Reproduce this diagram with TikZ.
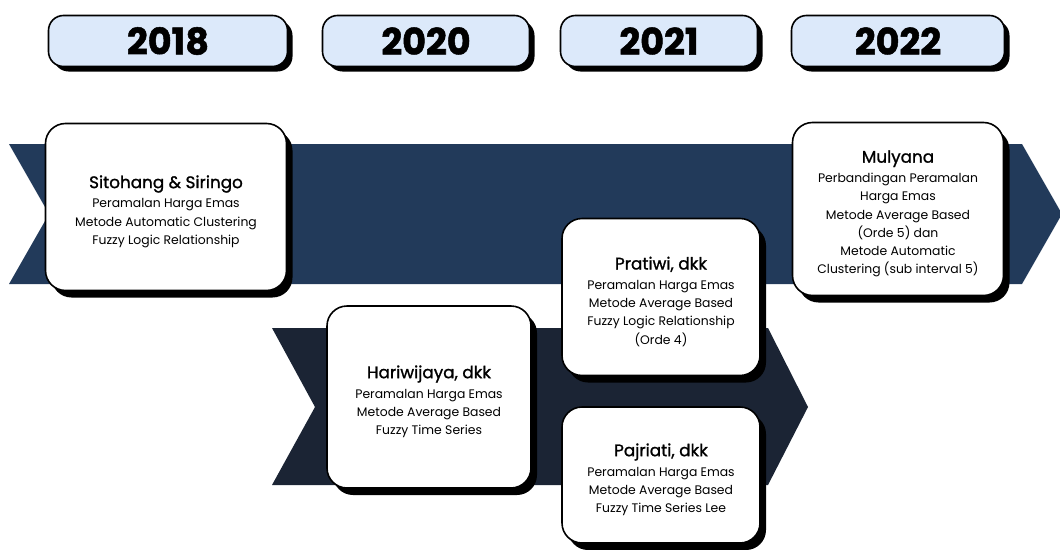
\documentclass[tikz,border=0pt]{standalone}
\usepackage{fontspec}
\setmainfont{Poppins}
\newfontfamily\yearfont{Poppins}[BoldFeatures={FakeBold=1.4}]
\newfontfamily\headfont{Poppins}[FakeBold=1.2]
\usetikzlibrary{shadows}

\definecolor{bandblue}{HTML}{223A5A}
\definecolor{banddark}{HTML}{1B2434}
\definecolor{yearfill}{HTML}{DCE9FA}

\newcommand{\cardhead}[1]{{\headfont\fontsize{16.8}{18}\selectfont\rule{0pt}{22pt}#1}\\[1.5pt]}

\begin{document}
\begin{tikzpicture}[x=1pt,y=-1pt,
    year/.style={draw=black, line width=1.6pt, fill=yearfill, rounded corners=15pt,
        minimum height=51pt, inner sep=0pt, font=\yearfont\fontsize{36.5}{36.5}\selectfont\bfseries,
        drop shadow={shadow xshift=5pt, shadow yshift=-5pt, fill=black, opacity=1}},
    card/.style={draw=black, line width=1.6pt, fill=white, rounded corners=20pt,
        inner sep=0pt, align=center, font=\fontsize{12.4}{18.3}\selectfont,
        drop shadow={shadow xshift=6pt, shadow yshift=-7pt, fill=black, opacity=1}}]

    \useasboundingbox (0,0) rectangle (1060,549);
    \clip (0,0) rectangle (1060,549);

    % years
    \node[year, minimum width=239pt] (y2018) at (168,41) {2018};
    \node[year, minimum width=207pt] (y2020) at (426,41) {2020};
    \node[year, minimum width=197pt] (y2021) at (659,41) {2021};
    \node[year, minimum width=213pt] (y2022) at (898,41) {2022};

    % arrows
    \fill[bandblue] (9,144) -- (1022,144) -- (1062,214) -- (1022,284)
        -- (9,284) -- (49,214) -- cycle;
    \fill[banddark] (272,328) -- (768,328) -- (808,407) -- (768,485)
        -- (272,485) -- (315,407) -- cycle;

    % cards
    \node[card, minimum width=241pt, minimum height=167pt] (sitohang) at (166,207)
        {\cardhead{Sitohang \& Siringo}Peramalan Harga Emas\\Metode Automatic Clustering\\Fuzzy Logic Relationship};
    \node[card, minimum width=204pt, minimum height=182pt] (hariwijaya) at (429,397)
        {\cardhead{Hariwijaya, dkk}Peramalan Harga Emas\\Metode Average Based\\Fuzzy Time Series};
    \node[card, minimum width=198pt, minimum height=157pt] (pratiwi) at (661,297)
        {\cardhead{Pratiwi, dkk}Peramalan Harga Emas\\Metode Average Based\\Fuzzy Logic Relationship\\(Orde 4)};
    \node[card, minimum width=198pt, minimum height=136pt] (pajriati) at (661,475)
        {\cardhead{Pajriati, dkk}Peramalan Harga Emas\\Metode Average Based\\Fuzzy Time Series Lee};
    \node[card, minimum width=211pt, minimum height=173pt] (mulyana) at (898,209)
        {\cardhead{Mulyana}Perbandingan Peramalan\\Harga Emas\\Metode Average Based\\(Orde 5) dan\\Metode Automatic\\Clustering (sub interval 5)};

\end{tikzpicture}
\end{document}
